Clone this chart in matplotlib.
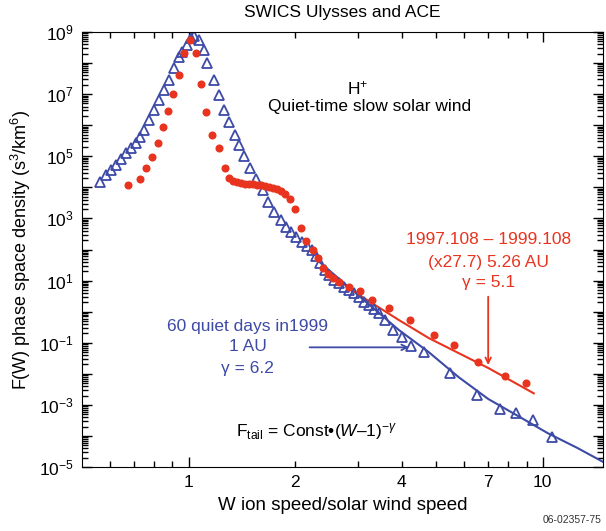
import numpy as np
import matplotlib
matplotlib.use('Agg')
import matplotlib.pyplot as plt
from matplotlib.ticker import NullFormatter

plt.rcParams['font.family'] = ['Liberation Sans', 'DejaVu Sans']
plt.rcParams['mathtext.fontset'] = 'custom'
plt.rcParams['mathtext.rm'] = 'Liberation Sans'
plt.rcParams['mathtext.it'] = 'Liberation Sans:italic'
plt.rcParams['mathtext.bf'] = 'Liberation Sans:bold'

# values
# 60 quiet days in 1999, 1 AU (blue triangles)
blue_w = [0.561, 0.586, 0.605, 0.624, 0.645, 0.666, 0.688, 0.710, 0.731, 0.750,
          0.774, 0.799, 0.826, 0.853, 0.881, 0.909, 0.939, 0.960, 0.987, 1.013,
          1.039, 1.069, 1.104, 1.128, 1.177, 1.216, 1.256, 1.297, 1.354, 1.390,
          1.435, 1.492, 1.550, 1.623, 1.675, 1.741, 1.822, 1.882, 1.943, 2.016,
          2.085, 2.154, 2.225, 2.283, 2.343, 2.420, 2.499, 2.581, 2.666, 2.754,
          2.843, 2.937, 3.032, 3.132, 3.234, 3.340, 3.450, 3.585, 3.776, 4.001,
          4.241, 4.612, 5.480, 6.505, 7.561, 8.420, 9.376, 10.60]
blue_f = [1.5e4, 2.5e4, 3.6e4, 5.2e4, 8e4, 1.25e5, 1.8e5, 2.7e5, 4.3e5, 7e5,
          1.5e6, 3.1e6, 6.5e6, 1.36e7, 2.9e7, 6.8e7, 1.6e8, 2.3e8, 3.8e8, 6.3e8,
          7.4e8, 5.5e8, 2.6e8, 9.8e7, 2.85e7, 9.4e6, 3.1e6, 1.3e6, 4.8e5, 2.3e5,
          1.0e5, 4.2e4, 1.86e4, 8.2e3, 3.45e3, 1.64e3, 889, 541, 373, 258,
          178, 134, 96, 62, 36, 21.9, 15.1, 10.4, 8.2, 6.3,
          5.0, 3.9, 3.0, 2.09, 1.63, 1.22, 0.88, 0.54, 0.256, 0.152,
          0.078, 0.050, 0.0104, 2.07e-3, 7.2e-4, 5.3e-4, 3.25e-4, 9.4e-5]

# 1997.108 - 1999.108, 5.26 AU (red dots, x27.7)
red_w = [0.673, 0.731, 0.758, 0.788, 0.817, 0.844, 0.875, 0.906, 0.939, 0.970,
         1.008, 1.046, 1.085, 1.123, 1.165, 1.216, 1.264, 1.302, 1.337, 1.372,
         1.408, 1.444, 1.482, 1.521, 1.561, 1.602, 1.643, 1.686, 1.730, 1.776,
         1.822, 1.869, 1.931, 1.994, 2.082, 2.150, 2.244, 2.317, 2.393, 2.472,
         2.553, 2.666, 2.843, 3.052, 3.304, 3.680, 4.227, 4.920, 5.632, 6.577,
         7.810, 8.96]
red_f = [1.19e4, 1.8e4, 4.3e4, 9.7e4, 2.6e5, 8.6e5, 2.9e6, 1.0e7, 4.1e7, 2.06e8,
         5.5e8, 2.06e8, 2.2e7, 2.7e6, 4.8e5, 1.8e5, 4.3e4, 1.95e4, 1.6e4, 1.49e4,
         1.38e4, 1.33e4, 1.28e4, 1.24e4, 1.19e4, 1.15e4, 1.10e4, 1.03e4, 9.5e3, 8.9e3,
         7.6e3, 6.1e3, 4.1e3, 1.97e3, 481, 181, 96, 52, 24.8, 15.9,
         11.8, 9.2, 6.3, 4.6, 2.37, 1.28, 0.538, 0.177, 0.085, 0.024,
         0.0088, 0.0049]

# power-law tail fits
blue_fit_w = [2.343, 3.032, 3.925, 4.764, 5.780, 7.015, 8.511, 10.33, 12.53, 14.82]
blue_fit_f = [39.5, 3.18, 0.256, 0.050, 0.0079, 0.00155, 4.4e-4, 1.23e-4, 4.1e-5, 1.45e-5]
red_fit_w = [2.420, 3.032, 3.925, 4.764, 5.780, 7.015, 9.437]
red_fit_f = [21.9, 3.43, 0.537, 0.1416, 0.0467, 0.0154, 2.35e-3]

xtick_major = [1, 10]
xtick_minor = [0.6, 0.7, 0.8, 0.9, 2, 3, 4, 5, 6, 7, 8, 9]
xtick_minor_labels = ['', '', '', '', '2', '', '4', '', '', '7', '', '']
ydecades = list(range(-5, 10))

blue = '#3d4aa6'
red = '#e8341f'

fig = plt.figure(figsize=(6.06, 5.31), dpi=100)
ax = fig.add_axes([82/606, 64/531, 521/606, 435/531])

ax.plot(blue_fit_w, blue_fit_f, '-', color=blue, lw=1.5)
ax.plot(red_fit_w, red_fit_f, '-', color=red, lw=1.5)
ax.plot(blue_w, blue_f, '^', mfc='none', mec=blue, mew=1.3, ms=6.5, ls='none')
ax.plot(red_w, red_f, 'o', color=red, ms=4.8, ls='none')

ax.set_xscale('log')
ax.set_yscale('log')
ax.set_xlim(0.5, 14.8)
ax.set_ylim(1e-5, 1e9)

ax.set_xticks(xtick_major, ['1', '10'])
ax.set_xticks(xtick_minor, xtick_minor_labels, minor=True)
ax.set_yticks([10.0**e for e in ydecades],
              ['$10^{%d}$' % e if e % 2 else '' for e in ydecades])
ax.yaxis.set_minor_locator(matplotlib.ticker.LogLocator(base=10, subs=np.arange(2, 10), numticks=50))
ax.yaxis.set_minor_formatter(NullFormatter())
ax.tick_params(which='both', direction='in', top=True, right=True, labelsize=12.5, width=1)
ax.tick_params(which='major', length=7, pad=6)
ax.tick_params(which='minor', length=4)
ax.tick_params(axis='x', which='minor', pad=6, labelsize=12.5)

ax.set_xlabel('W ion speed/solar wind speed', fontsize=13.5, labelpad=5)
ax.set_ylabel('F(W) phase space density (s$^3$/km$^6$)', fontsize=13, labelpad=4)
ax.set_title('SWICS Ulysses and ACE', fontsize=12.5, pad=11)

ax.text(0.529, 0.871, 'H$^{+}$', transform=ax.transAxes, ha='center', va='center', fontsize=12.5)
ax.text(0.552, 0.828, 'Quiet-time slow solar wind', transform=ax.transAxes,
        ha='center', va='center', fontsize=12.5)

ax.text(0.780, 0.522, '1997.108 – 1999.108', transform=ax.transAxes, ha='center', va='center',
        fontsize=12.5, color=red)
ax.text(0.780, 0.471, '(x27.7) 5.26 AU', transform=ax.transAxes, ha='center', va='center',
        fontsize=12.5, color=red)
ax.text(0.780, 0.423, 'γ = 5.1', transform=ax.transAxes, ha='center', va='center',
        fontsize=12.5, color=red)
ax.annotate('', xy=(7.015, 0.0191), xytext=(7.015, 3.03),
            arrowprops=dict(arrowstyle='->', color=red, lw=1.3, shrinkA=0, shrinkB=0))

ax.text(0.318, 0.3225, '60 quiet days in1999', transform=ax.transAxes, ha='center', va='center',
        fontsize=12.5, color=blue)
ax.text(0.318, 0.2766, '1 AU', transform=ax.transAxes, ha='center', va='center',
        fontsize=12.5, color=blue)
ax.text(0.318, 0.227, 'γ = 6.2', transform=ax.transAxes, ha='center', va='center',
        fontsize=12.5, color=blue)
ax.annotate('', xy=(4.19, 0.071), xytext=(2.196, 0.071),
            arrowprops=dict(arrowstyle='->', color=blue, lw=1.3, shrinkA=0, shrinkB=0))

ax.text(0.45, 0.081, r'F$_{\mathrm{tail}}$ = Const•($W$–1)$^{-γ}$', transform=ax.transAxes,
        ha='center', va='center', fontsize=12.5)

fig.text(572/606, 1 - 520/531, '06-02357-75', ha='center', va='center', fontsize=7.5, color='#333333')

fig.savefig('out.png', dpi=100)
